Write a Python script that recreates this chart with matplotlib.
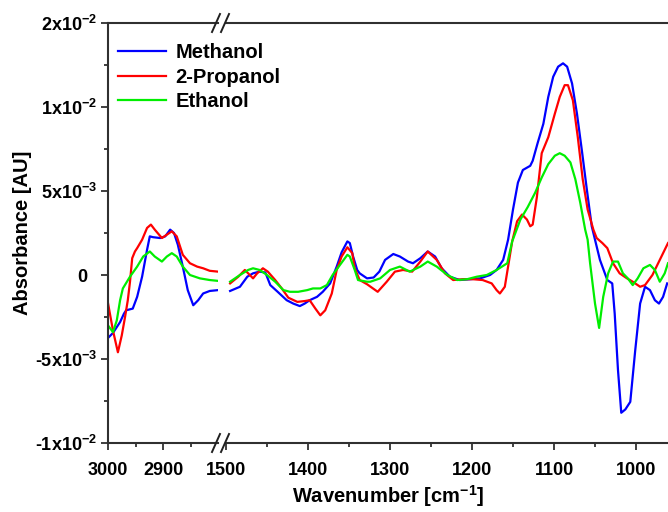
import matplotlib
matplotlib.use('Agg')
import matplotlib.pyplot as plt
import matplotlib.transforms as mtransforms
from matplotlib.lines import Line2D

plt.rcParams['font.family'] = ['Liberation Sans', 'DejaVu Sans']
plt.rcParams['font.weight'] = 'bold'
plt.rcParams['mathtext.fontset'] = 'custom'
plt.rcParams['mathtext.rm'] = 'Liberation Sans:bold'
plt.rcParams['mathtext.it'] = 'Liberation Sans:bold'
plt.rcParams['mathtext.bf'] = 'Liberation Sans:bold'

# absorbance values are in units of 1e-3 AU
# --- C-H stretch region (3000-2800 cm-1)
meth_hi_wn = [3000, 2991, 2978, 2971, 2967, 2955, 2947, 2938, 2929, 2924, 2918,
              2905, 2896, 2887, 2880, 2873, 2864, 2855, 2845, 2836, 2827, 2815, 2800]
meth_hi_abs = [-3.75, -3.45, -2.8, -2.3, -2.1, -2.0, -1.3, -0.1, 1.5, 2.3, 2.25,
               2.2, 2.3, 2.7, 2.5, 1.8, 0.5, -0.9, -1.8, -1.5, -1.1, -0.95, -0.9]

prop_hi_wn = [3000, 2991, 2982, 2975, 2969, 2964, 2960, 2956, 2951, 2947, 2938,
              2929, 2922, 2915, 2902, 2893, 2884, 2875, 2864, 2851, 2838, 2827,
              2815, 2800]
prop_hi_abs = [-1.67, -3.3, -4.6, -3.6, -2.5, -1.5, -0.4, 1.0, 1.4, 1.6, 2.1,
               2.8, 3.0, 2.7, 2.2, 2.4, 2.6, 2.3, 1.2, 0.7, 0.5, 0.4, 0.25, 0.2]

eth_hi_wn = [3000, 2991, 2984, 2978, 2973, 2960, 2947, 2936, 2924, 2915, 2902,
             2893, 2884, 2875, 2864, 2851, 2833, 2815, 2800]
eth_hi_abs = [-3.0, -3.4, -2.7, -1.5, -0.8, -0.1, 0.5, 1.1, 1.4, 1.1, 0.8,
              1.1, 1.3, 1.1, 0.5, 0.0, -0.2, -0.3, -0.35]

# --- fingerprint region (1500-960 cm-1)
meth_lo_wn = [1495, 1483, 1474, 1467, 1459, 1452, 1446, 1437, 1426, 1418, 1410,
              1404, 1398, 1389, 1382, 1373, 1365, 1359, 1352, 1349, 1345, 1340,
              1337, 1328, 1320, 1313, 1306, 1296, 1288, 1278, 1272, 1263, 1254,
              1245, 1237, 1227, 1215, 1202, 1190, 1178, 1170, 1162, 1156, 1150,
              1144, 1138, 1129, 1126, 1120, 1113, 1107, 1101, 1095, 1089, 1084,
              1078, 1072, 1066, 1060, 1054, 1050, 1044, 1035, 1029, 1026, 1022,
              1018, 1013, 1007, 1001, 995, 989, 983, 977, 972, 967, 962]
meth_lo_abs = [-0.95, -0.7, -0.1, 0.1, 0.2, 0.15, -0.6, -1.0, -1.5, -1.7, -1.85,
               -1.7, -1.5, -1.3, -1.0, -0.5, 0.5, 1.35, 2.0, 1.9, 1.1, 0.3,
               0.1, -0.2, -0.15, 0.2, 0.9, 1.25, 1.1, 0.8, 0.7, 1.0, 1.4,
               1.1, 0.4, -0.1, -0.3, -0.25, -0.2, 0.0, 0.3, 0.9, 2.1, 3.9,
               5.5, 6.25, 6.5, 6.8, 7.85, 9.0, 10.6, 11.8, 12.4, 12.6, 12.4,
               11.4, 9.6, 7.4, 5.1, 2.9, 2.1, 0.9, -0.3, -0.5, -2.3, -5.65,
               -8.2, -8.0, -7.55, -4.5, -1.7, -0.7, -0.9, -1.5, -1.7, -1.3, -0.5]

prop_lo_wn = [1495, 1485, 1477, 1467, 1462, 1455, 1449, 1440, 1432, 1424, 1413,
              1404, 1398, 1391, 1385, 1379, 1371, 1365, 1359, 1352, 1346, 1343,
              1337, 1328, 1315, 1304, 1294, 1284, 1273, 1263, 1254, 1243, 1233,
              1223, 1211, 1199, 1187, 1176, 1170, 1166, 1160, 1156, 1151, 1145,
              1139, 1133, 1129, 1126, 1121, 1115, 1107, 1099, 1093, 1087, 1083,
              1077, 1071, 1065, 1059, 1052, 1048, 1041, 1035, 1028, 1020, 1011,
              1004, 995, 989, 980, 973, 965, 961]
prop_lo_abs = [-0.5, -0.1, 0.3, -0.2, 0.1, 0.4, 0.2, -0.3, -0.8, -1.35, -1.6,
               -1.55, -1.5, -2.0, -2.4, -2.1, -1.1, 0.3, 1.1, 1.65, 1.3, 0.4,
               -0.3, -0.55, -1.0, -0.4, 0.2, 0.3, 0.2, 0.8, 1.4, 0.9, 0.1,
               -0.3, -0.25, -0.25, -0.3, -0.5, -0.9, -1.1, -0.7, 0.5, 2.0, 3.2,
               3.6, 3.3, 2.9, 3.0, 4.6, 7.25, 8.2, 9.6, 10.6, 11.3, 11.3,
               10.4, 8.2, 5.7, 3.9, 2.7, 2.2, 1.9, 1.6, 0.7, 0.1, -0.2,
               -0.4, -0.7, -0.6, 0.0, 0.7, 1.5, 1.9]

eth_lo_wn = [1495, 1483, 1473, 1467, 1459, 1450, 1440, 1430, 1422, 1412, 1401,
             1394, 1385, 1377, 1370, 1361, 1352, 1349, 1343, 1339, 1328, 1324,
             1312, 1300, 1288, 1276, 1263, 1254, 1243, 1230, 1218, 1206, 1194,
             1182, 1170, 1157, 1151, 1141, 1132, 1123, 1115, 1107, 1099, 1093,
             1087, 1080, 1074, 1068, 1062, 1059, 1056, 1050, 1045, 1040, 1034,
             1028, 1022, 1016, 1010, 1004, 998, 991, 983, 977, 971, 965, 961]
eth_lo_abs = [-0.4, 0.0, 0.3, 0.4, 0.3, 0.0, -0.4, -0.9, -1.0, -1.0, -0.9,
              -0.8, -0.8, -0.6, 0.0, 0.6, 1.2, 1.1, 0.3, -0.3, -0.4, -0.4,
              -0.2, 0.3, 0.5, 0.2, 0.5, 0.8, 0.5, 0.0, -0.3, -0.25, -0.1,
              0.0, 0.3, 0.7, 2.0, 3.3, 4.05, 4.9, 5.8, 6.6, 7.1, 7.25,
              7.1, 6.7, 5.7, 4.3, 2.7, 2.1, 0.7, -1.7, -3.15, -1.3, 0.1,
              0.8, 0.8, 0.1, -0.2, -0.6, -0.2, 0.4, 0.6, 0.3, -0.4, 0.1, 0.7]

series_names = ['Methanol', '2-Propanol', 'Ethanol']
series_colors = ['#0000ff', '#ff0000', '#00ee00']

ytick_vals = [-0.01, -0.005, 0.0, 0.005, 0.01, 0.015]
ytick_labels = ['-1x10$^{-2}$', '-5x10$^{-3}$', '0', '5x10$^{-3}$',
                '1x10$^{-2}$', '2x10$^{-2}$']
ytick_minor = [-0.0075, -0.0025, 0.0025, 0.0075, 0.0125]
x_hi_ticks = [3000, 2900]
x_hi_minor = [2950, 2850]
x_lo_ticks = [1500, 1400, 1300, 1200, 1100, 1000]
x_lo_minor = [1450, 1350, 1250, 1150, 1050]

W, H = 668, 512
fig = plt.figure(figsize=(W / 100, H / 100), dpi=100)
x0, x_gap1, x_gap2, x1 = 108, 218, 226, 668
y_top, y_bot = 23, 443
bot = 1 - y_bot / H
hgt = (y_bot - y_top) / H
ax1 = fig.add_axes([x0 / W, bot, (x_gap1 - x0) / W, hgt])
ax2 = fig.add_axes([x_gap2 / W, bot, (x1 - x_gap2) / W, hgt])

sc = 1e-3
hi = [(meth_hi_wn, meth_hi_abs), (prop_hi_wn, prop_hi_abs), (eth_hi_wn, eth_hi_abs)]
lo = [(meth_lo_wn, meth_lo_abs), (prop_lo_wn, prop_lo_abs), (eth_lo_wn, eth_lo_abs)]
handles = []
for (wx, ay), col in zip(hi, series_colors):
    ax1.plot(wx, [v * sc for v in ay], color=col, lw=1.6, solid_joinstyle='round')
for (wx, ay), col, name in zip(lo, series_colors, series_names):
    ln, = ax2.plot(wx, [v * sc for v in ay], color=col, lw=1.6,
                   solid_joinstyle='round', label=name)
    handles.append(ln)

spine_col = '#303030'
for ax in (ax1, ax2):
    ax.set_ylim(-0.01, 0.015)
    ax.spines['right'].set_visible(False)
    for sp in ('top', 'bottom', 'left'):
        ax.spines[sp].set_color(spine_col)
        ax.spines[sp].set_linewidth(1.5)
    ax.tick_params(axis='both', which='major', direction='out', length=5,
                   width=1.3, color=spine_col, labelsize=13, pad=9)
    ax.tick_params(axis='both', which='minor', direction='out', length=3,
                   width=1.3, color=spine_col)
    ax.tick_params(top=False, right=False, which='both')

ax1.set_xlim(3000, 2800)
ax1.set_xticks(x_hi_ticks)
ax1.set_xticks(x_hi_minor, minor=True)
ax1.set_yticks(ytick_vals)
ax1.set_yticklabels(ytick_labels)
ax1.set_yticks(ytick_minor, minor=True)
ax1.tick_params(axis='y', pad=3)

ax2.set_xlim(1500, 961)
ax2.set_xticks(x_lo_ticks)
ax2.set_xticks(x_lo_minor, minor=True)
ax2.spines['left'].set_visible(False)
ax2.tick_params(axis='y', which='both', left=False, labelleft=False)
ax2.set_yticks(ytick_vals)

for lab in ax1.get_xticklabels() + ax1.get_yticklabels() + ax2.get_xticklabels():
    lab.set_fontweight('bold')

# the plain "0" label sits left of the superscripted ones, as in the original
zero_lab = ax1.yaxis.get_major_ticks()[2].label1
zero_lab.set_transform(zero_lab.get_transform() +
                       mtransforms.ScaledTranslation(-0.1, 0, fig.dpi_scale_trans))

# axis-break marks
for cx in (216, 225):
    for cy in (y_top, y_bot):
        fig.add_artist(Line2D([(cx - 4) / W, (cx + 4) / W],
                              [1 - (cy + 9) / H, 1 - (cy - 9) / H],
                              color='#202020', lw=1.4))

fig.text((x0 + x1) / 2 / W, 1 - 496 / H, 'Wavenumber [cm$^{-1}$]',
         ha='center', va='center', fontsize=14.5, fontweight='bold')
fig.text(23 / W, 1 - 233 / H, 'Absorbance [AU]', rotation=90,
         ha='center', va='center', fontsize=14.5, fontweight='bold')

fig.legend(handles=handles, loc='upper left',
           bbox_to_anchor=(118 / W, 1 - 43 / H), frameon=False,
           prop={'size': 14.5, 'weight': 'bold'}, handlelength=2.4,
           handletextpad=0.45, labelspacing=0.28, borderpad=0,
           borderaxespad=0)

fig.savefig('out.png', dpi=100)
